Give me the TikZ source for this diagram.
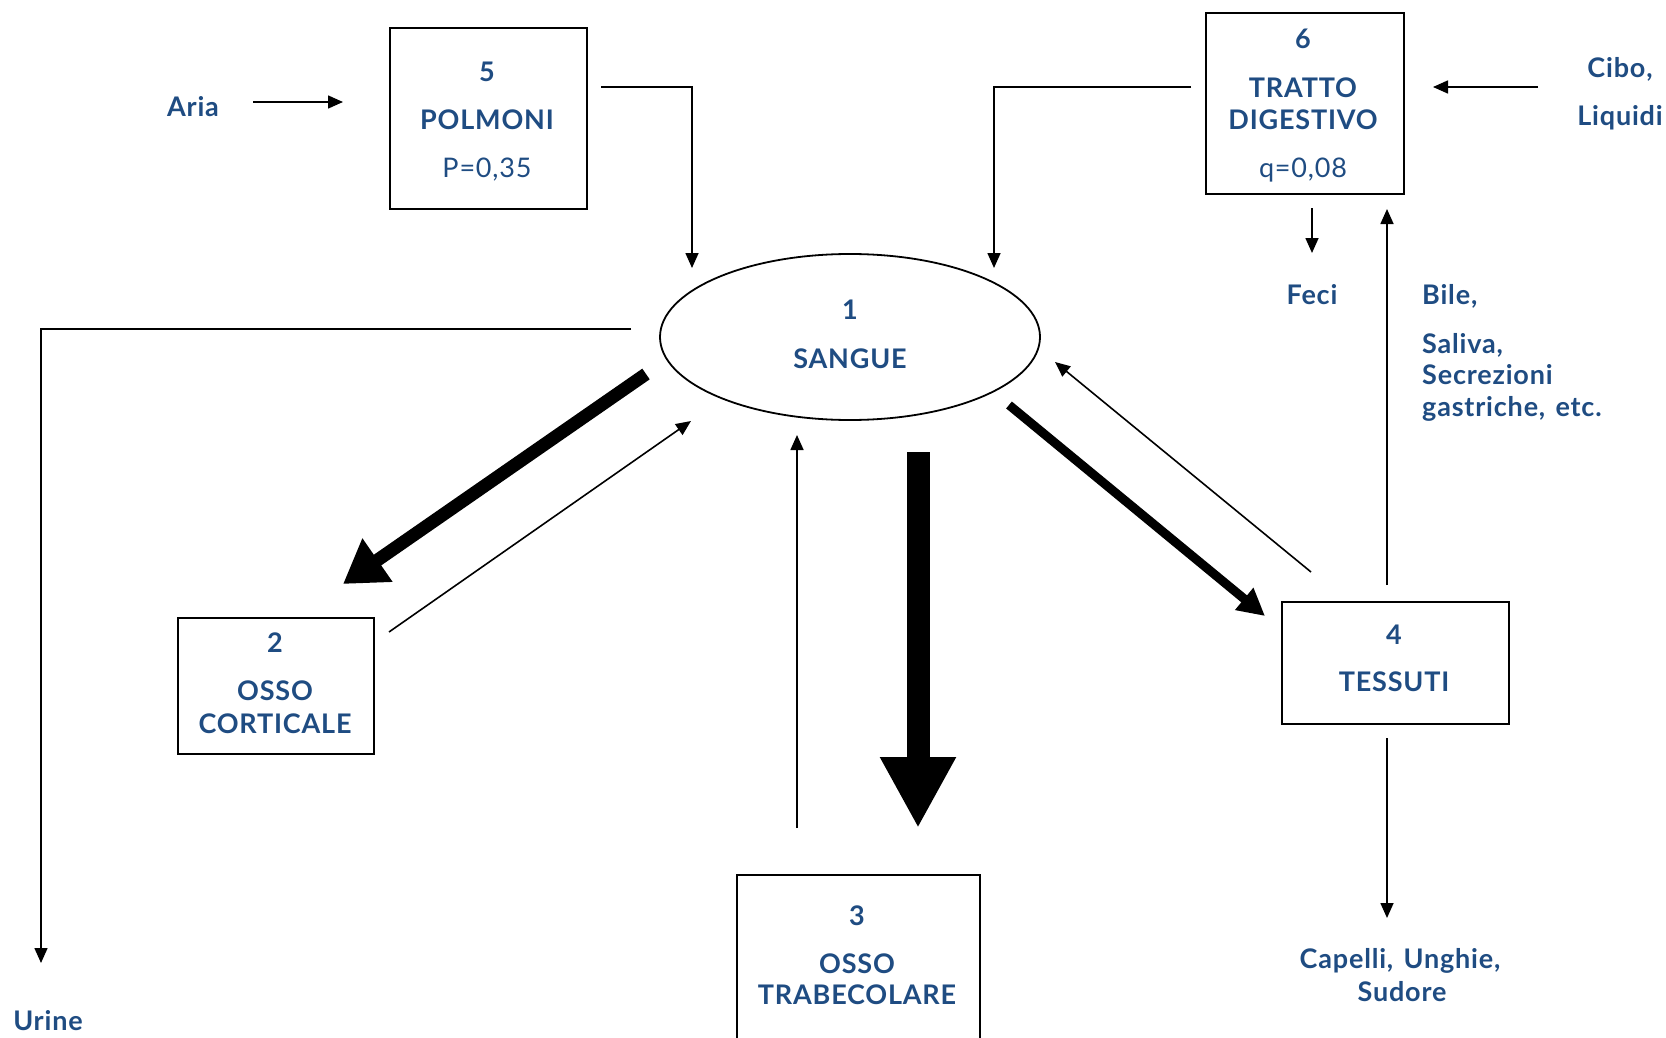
\documentclass[tikz,border=0pt]{standalone}
\usepackage{fontspec}
\setmainfont{Lato}[LetterSpace=3,WordSpace=1.4]
\usetikzlibrary{arrows.meta,shapes.geometric}
\definecolor{ink}{RGB}{31,76,130}
\begin{document}
\begin{tikzpicture}[x=1pt,y=-1pt,
  box/.style={draw,line width=1.8pt,inner sep=0,anchor=north west},
  lbl/.style={text=ink,font=\fontsize{27}{32}\selectfont\bfseries,inner sep=0,anchor=base},
  val/.style={text=ink,font=\fontsize{27}{32}\selectfont,inner sep=0,anchor=base},
  flow/.style={line width=1.6pt,-{Triangle[length=15pt,width=13pt]}},
  link/.style={line width=1.6pt},
]
\clip (0,0) rectangle (1666,1038);
\useasboundingbox (0,0) rectangle (1666,1038);

% compartments
\node[draw,ellipse,line width=1.8pt,minimum width=380pt,minimum height=166pt,inner sep=0] (sangue) at (850,337) {};
\node[box,minimum width=197pt,minimum height=181pt] (polmoni) at (389,27) {};
\node[box,minimum width=198pt,minimum height=181pt] (digest) at (1205,12) {};
\node[box,minimum width=196pt,minimum height=136pt] (cortic) at (177,617) {};
\node[box,minimum width=243pt,minimum height=180pt] (trabec) at (736,874) {};
\node[box,minimum width=227pt,minimum height=122pt] (tessuti) at (1281,601) {};

% compartment labels
\node[lbl] (n1) at (850,319) {1};
\node[lbl] (t1) at (850,368) {SANGUE};
\node[lbl] (n5) at (487,82) {5};
\node[lbl] (t5) at (487,130) {POLMONI};
\node[val] (v5) at (487,178) {P=0,35};
\node[lbl] (n6) at (1303,49) {6};
\node[lbl] (t6a) at (1303,98) {TRATTO};
\node[lbl] (t6b) at (1303,130) {DIGESTIVO};
\node[val] (v6) at (1303,178) {q=0,08};
\node[lbl] (n2) at (275,652) {2};
\node[lbl] (t2a) at (275,700) {OSSO};
\node[lbl] (t2b) at (275,733) {CORTICALE};
\node[lbl] (n3) at (857,925) {3};
\node[lbl] (t3a) at (857,973) {OSSO};
\node[lbl] (t3b) at (857,1004) {TRABECOLARE};
\node[lbl] (n4) at (1394,644) {4};
\node[lbl] (t4) at (1394,691) {TESSUTI};

% inputs and outputs
\node[lbl] (aria) at (193,117) {Aria};
\node[lbl] (cibo) at (1620,78) {Cibo,};
\node[lbl] (liquidi) at (1620,126) {Liquidi};
\node[lbl] (feci) at (1312,304) {Feci};
\node[lbl,anchor=base west] (bile) at (1422,304) {Bile,};
\node[lbl,anchor=base west] (saliva) at (1422,353) {Saliva,};
\node[lbl,anchor=base west] (secr) at (1422,384) {Secrezioni};
\node[lbl,anchor=base west] (gastr) at (1422,416) {gastriche, etc.};
\node[lbl] (urine) at (48,1030) {Urine};
\node[lbl] (capelli) at (1400,968) {Capelli, Unghie,};
\node[lbl] (sudore) at (1402,1001) {Sudore};

% connector end points
\coordinate (ariaA) at (253,102);   \coordinate (ariaB) at (343,102);
\coordinate (polA) at (601,87);     \coordinate (polB) at (692,268);
\coordinate (digA) at (1191,87);    \coordinate (digB) at (994,268);
\coordinate (ciboA) at (1538,87);   \coordinate (ciboB) at (1433,87);
\coordinate (feciA) at (1312,208);  \coordinate (feciB) at (1312,253);
\coordinate (bileA) at (1387,585);  \coordinate (bileB) at (1387,209);
\coordinate (urA) at (631,329);     \coordinate (urB) at (41,963);
\coordinate (s2A) at (646,374);     \coordinate (s2B) at (343,584);
\coordinate (c2A) at (389,632);     \coordinate (c2B) at (691,421);
\coordinate (s3A) at (918,452);     \coordinate (s3B) at (918,828);
\coordinate (c3A) at (797,828);     \coordinate (c3B) at (797,435);
\coordinate (s4A) at (1009,405);    \coordinate (s4B) at (1265,616);
\coordinate (c4A) at (1311,572);    \coordinate (c4B) at (1055,362);
\coordinate (capA) at (1387,738);   \coordinate (capB) at (1387,918);

% thin flows
\draw[flow] (ariaA) -- (ariaB);
\draw[flow] (polA) -| (polB);
\draw[flow] (digA) -| (digB);
\draw[flow] (ciboA) -- (ciboB);
\draw[flow] (feciA) -- (feciB);
\draw[flow] (bileA) -- (bileB);
\draw[flow] (urA) -| (urB);
\draw[flow] (c2A) -- (c2B);
\draw[flow] (c3A) -- (c3B);
\draw[flow] (c4A) -- (c4B);
\draw[flow] (capA) -- (capB);

% heavy flows out of the blood
\draw[line width=13pt,-{Triangle[length=42pt,width=50pt]}] (s2A) -- (s2B);
\draw[line width=23pt,-{Triangle[length=71pt,width=71pt]}] (s3A) -- (s3B);
\draw[line width=9pt,-{Triangle[length=27pt,width=27pt]}] (s4A) -- (s4B);
\end{tikzpicture}
\end{document}
